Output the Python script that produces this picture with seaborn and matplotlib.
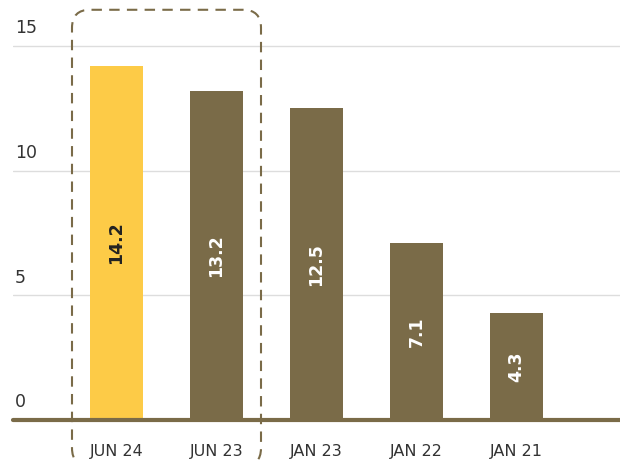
import numpy as np
import pandas as pd
import matplotlib
matplotlib.use('Agg')
import matplotlib.pyplot as plt
from matplotlib.patches import FancyBboxPatch
from matplotlib.transforms import IdentityTransform, blended_transform_factory
import seaborn as sns

# data
periods = ['JUN 24', 'JUN 23', 'JAN 23', 'JAN 22', 'JAN 21']
values = [14.2, 13.2, 12.5, 7.1, 4.3]
bar_colors = ['#FDCB47', '#7A6B48', '#7A6B48', '#7A6B48', '#7A6B48']
label_colors = ['#222222', 'white', 'white', 'white', 'white']
yticks = [0, 5, 10, 15]

olive = '#7A6B48'
df = pd.DataFrame({'period': periods, 'value': values})

sns.set_style('white')
plt.rcParams['font.family'] = ['DejaVu Sans']

fig = plt.figure(figsize=(6.2, 4.61), dpi=100)
ax = fig.add_axes([13 / 620, 41 / 461, 607 / 620, 399 / 461])

sns.barplot(data=df, x='period', y='value', hue='period', palette=bar_colors,
            legend=False, width=0.53, saturation=1, linewidth=0, ax=ax)

ax.set_xlim(-1.035, 5.035)
ax.set_ylim(0, 16)

# grid lines and y labels
lab_tr = blended_transform_factory(ax.transAxes, ax.transData)
for t in yticks:
    if t > 0:
        ax.axhline(t, color='#dddddd', lw=1, zorder=0)
    ax.text(0.003, t + 0.35, str(t), transform=lab_tr, ha='left', va='bottom',
            fontsize=12.5, color='#333333')
ax.axhline(0, color=olive, lw=3, zorder=3, clip_on=False)

# value labels
for i, (v, c) in enumerate(zip(values, label_colors)):
    ax.text(i, v / 2, f'{v}', rotation=90, ha='center', va='center',
            fontsize=12.5, fontweight='bold', color=c)

ax.set_xlabel('')
ax.set_ylabel('')
ax.set_yticks([])
ax.tick_params(axis='x', length=0, pad=17, labelsize=11.5, labelcolor='#333333')
for s in ax.spines.values():
    s.set_visible(False)

# dashed highlight box around the two most recent periods
fig.canvas.draw()
(x0, y0) = ax.transData.transform((-0.445, -1.85))
(x1, y1) = ax.transData.transform((1.445, 16.45))
box = FancyBboxPatch((x0, y0), x1 - x0, y1 - y0,
                     boxstyle='round,pad=0,rounding_size=18',
                     transform=IdentityTransform(), fill=False,
                     edgecolor=olive, lw=1.5, ls=(0, (5, 3.5)), clip_on=False)
fig.patches.append(box)

fig.savefig('out.png', dpi=100)
